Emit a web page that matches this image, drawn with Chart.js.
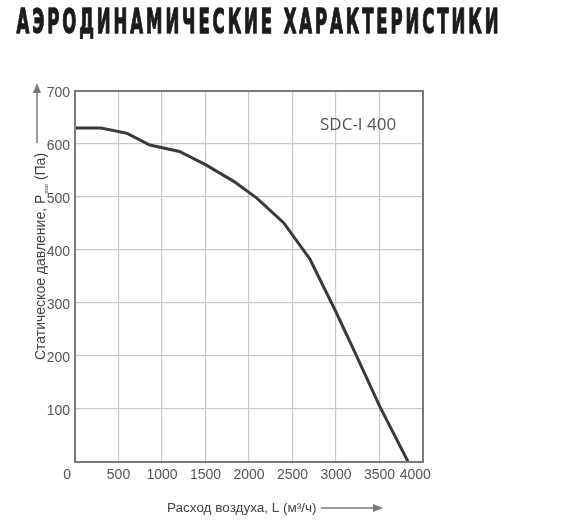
<!DOCTYPE html>
<html>
<head>
<meta charset="utf-8">
<script src="https://cdn.jsdelivr.net/npm/chart.js@4"></script>
<style>
  html, body { margin: 0; padding: 0; background: #fff; }
  #chartAero { display: block; }
</style>
</head>
<body>
<canvas id="chartAero" width="586" height="532"></canvas>
<script>
// Характеристика SDC-I 400: расход воздуха (м3/ч) -> статическое давление (Па)
var airflow  = [0, 300, 600, 860, 1200, 1500, 1820, 2090, 2400, 2700, 3000, 3240, 3500, 3830];
var pressure = [630, 630, 620, 598, 586, 561, 530, 498, 451, 383, 283, 199, 106, 0];
var xTicks = [0, 500, 1000, 1500, 2000, 2500, 3000, 3500, 4000];
var yTicks = [100, 200, 300, 400, 500, 600, 700];

var TITLE = 'АЭРОДИНАМИЧЕСКИЕ ХАРАКТЕРИСТИКИ';
var MODEL = 'SDC-I 400';

(function () {
  if (typeof Chart === 'undefined') return;

  var grey = '#555555';
  var frame = '#7a7a7a';
  var FIG = '\u2007';

  function arrow(ctx, x1, y1, x2, y2) {
    var a = Math.atan2(y2 - y1, x2 - x1);
    var len = 10, half = 4;
    ctx.save();
    ctx.strokeStyle = frame;
    ctx.fillStyle = frame;
    ctx.lineWidth = 1.5;
    ctx.beginPath();
    ctx.moveTo(x1, y1);
    ctx.lineTo(x2 - Math.cos(a) * len, y2 - Math.sin(a) * len);
    ctx.stroke();
    ctx.beginPath();
    ctx.moveTo(x2, y2);
    ctx.lineTo(x2 - Math.cos(a) * len - Math.sin(a) * half, y2 - Math.sin(a) * len + Math.cos(a) * half);
    ctx.lineTo(x2 - Math.cos(a) * len + Math.sin(a) * half, y2 - Math.sin(a) * len - Math.cos(a) * half);
    ctx.closePath();
    ctx.fill();
    ctx.restore();
  }

  /* ---------- рамка, заголовок, подписи осей ---------- */
  var decor = {
    id: 'decor',
    afterDraw: function (chart) {
      var ctx = chart.ctx, ca = chart.chartArea;
      ctx.save();

      // рамка графика
      ctx.strokeStyle = frame;
      ctx.lineWidth = 2;
      ctx.strokeRect(ca.left, ca.top, ca.right - ca.left, ca.bottom - ca.top);

      // заголовок (узкий жирный шрифт с разрядкой)
      ctx.font = 'bold 34px "DejaVu Sans"';
      ctx.letterSpacing = '6px';
      ctx.fillStyle = '#1b1b1b';
      ctx.strokeStyle = '#1b1b1b';
      ctx.lineWidth = 1.4;
      ctx.lineJoin = 'round';
      ctx.textBaseline = 'alphabetic';
      ctx.textAlign = 'left';
      var w = ctx.measureText(TITLE).width - 6;
      var sx = 482 / w;
      ctx.save();
      ctx.translate(16.5, 33);
      ctx.scale(sx, 1);
      ctx.fillText(TITLE, 0, 0);
      ctx.strokeText(TITLE, 0, 0);
      ctx.restore();
      ctx.letterSpacing = '0px';

      // модель вентилятора
      ctx.font = '17px "Open Sans"';
      ctx.fillStyle = grey;
      ctx.textBaseline = 'middle';
      ctx.fillText(MODEL, 320, 125);

      // подпись оси X
      ctx.font = '13.5px "Liberation Sans"';
      ctx.fillStyle = '#444';
      ctx.textAlign = 'left';
      ctx.fillText('Расход воздуха, L (м³/ч)', 167, 508);
      arrow(ctx, 321, 508, 383, 508);

      // подпись оси Y (повернутая, с индексом stat)
      var p1 = 'Статическое давление, P', p2 = 'stat', p3 = ' (Па)';
      ctx.font = '14px "Liberation Sans"';
      var w1 = ctx.measureText(p1).width, w3 = ctx.measureText(p3).width;
      ctx.font = '6px "Liberation Sans"';
      var w2 = ctx.measureText(p2).width;
      var total = w1 + w2 + w3;
      ctx.save();
      ctx.translate(45, 257);
      ctx.rotate(-Math.PI / 2);
      ctx.textBaseline = 'alphabetic';
      ctx.textAlign = 'left';
      var s = -total / 2;
      ctx.font = '14px "Liberation Sans"';
      ctx.fillText(p1, s, 0);
      ctx.font = '6px "Liberation Sans"';
      ctx.fillText(p2, s + w1 + 1, 3);
      ctx.font = '14px "Liberation Sans"';
      ctx.fillText(p3, s + w1 + w2 + 1, 0);
      ctx.restore();
      arrow(ctx, 37, 143, 37, 83);

      ctx.restore();
    }
  };

  try {
    new Chart(document.getElementById('chartAero'), {
      type: 'line',
      data: {
        datasets: [{
          data: airflow.map(function (x, i) { return { x: x, y: pressure[i] }; }),
          borderColor: '#3a3a3a',
          borderWidth: 3,
          pointRadius: 0,
          tension: 0,
          fill: false
        }]
      },
      options: {
        responsive: false,
        animation: false,
        devicePixelRatio: 1,
        layout: { padding: { top: 91, right: 163, left: 0, bottom: 0 } },
        plugins: { legend: { display: false }, tooltip: { enabled: false } },
        scales: {
          x: {
            type: 'linear', min: 0, max: 4000,
            afterBuildTicks: function (s) { s.ticks = xTicks.map(function (v) { return { value: v }; }); },
            afterFit: function (s) { s.height = 70; },
            grid: { color: '#c9c9c9', lineWidth: 1.2, drawTicks: false },
            border: { display: false },
            ticks: {
              color: grey, padding: 5, maxRotation: 0, autoSkip: false,
              font: { family: 'Liberation Sans', size: 14 },
              callback: function (v) {
                if (v === 0) return '0' + FIG + FIG;
                if (v === 4000) return '4000' + FIG + FIG;
                return String(v);
              }
            }
          },
          y: {
            type: 'linear', min: 0, max: 700,
            afterBuildTicks: function (s) { s.ticks = yTicks.map(function (v) { return { value: v }; }); },
            afterFit: function (s) { s.width = 75; },
            grid: { color: '#c9c9c9', lineWidth: 1.2, drawTicks: false },
            border: { display: false },
            ticks: {
              color: grey, padding: 5, labelOffset: 2,
              font: { family: 'Liberation Sans', size: 14 },
              callback: function (v) { return String(v); }
            }
          }
        }
      },
      plugins: [decor]
    });
  } catch (e) { console.error('chartAero', e); }
})();
</script>
</body>
</html>
